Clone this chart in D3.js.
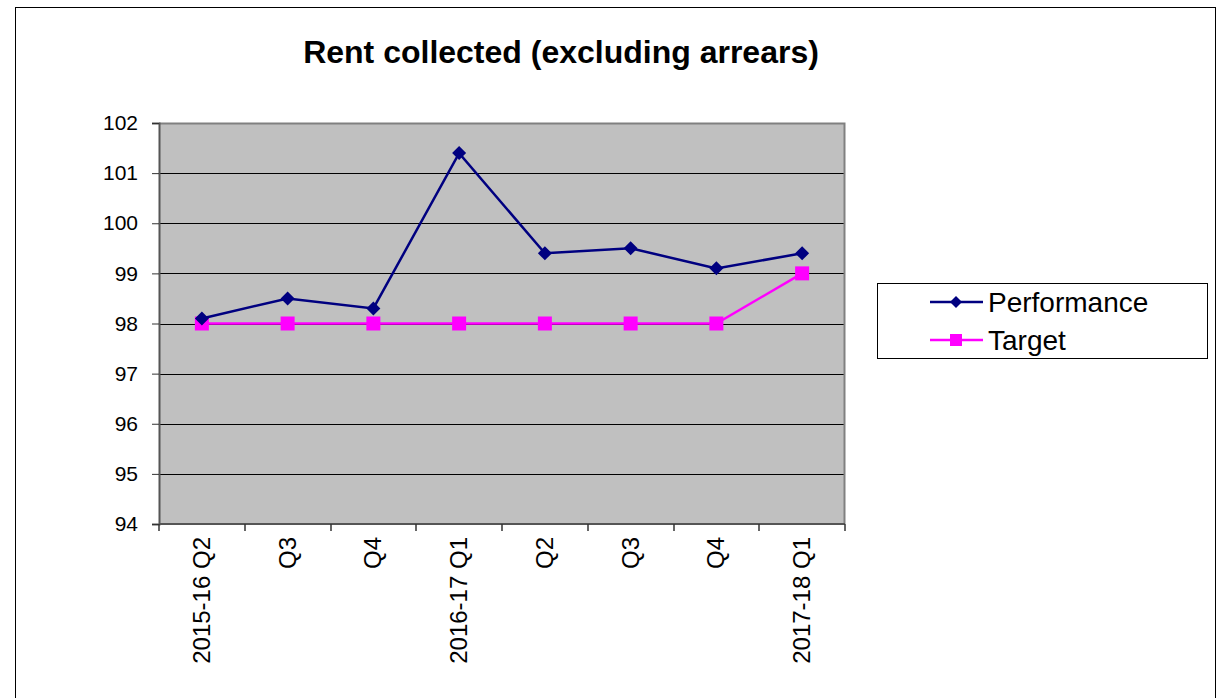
<!DOCTYPE html>
<html>
<head>
<meta charset="utf-8">
<script src="https://cdn.jsdelivr.net/npm/d3@7"></script>
<style>
  html, body { margin: 0; padding: 0; background: #fff; }
  svg { display: block; font-family: "Liberation Sans", Arial, sans-serif; }
</style>
</head>
<body>
<svg id="chart" width="1228" height="698"></svg>
<script>
// Quarterly rent collection (% excluding arrears) against target
const categories = ["2015-16 Q2", "Q3", "Q4", "2016-17 Q1", "Q2", "Q3", "Q4", "2017-18 Q1"];
const performance = [98.1, 98.5, 98.3, 101.4, 99.4, 99.5, 99.1, 99.4];
const target = [98, 98, 98, 98, 98, 98, 98, 99];
const yTicks = [94, 95, 96, 97, 98, 99, 100, 101, 102];
const seriesNames = ["Performance", "Target"];

const svg = d3.select("#chart");

// outer chart frame
svg.append("rect")
  .attr("x", 15.5).attr("y", 7.5)
  .attr("width", 1200).attr("height", 700)
  .attr("fill", "#fff").attr("stroke", "#000").attr("stroke-width", 1);

const plot = { left: 159, top: 123, right: 845, bottom: 524 };

// categories repeat ("Q3", "Q4"...), so the band scale runs over indices
const idx = categories.map((_, i) => i);
const x = d3.scaleBand().domain(idx).range([plot.left, plot.right]);
const y = d3.scaleLinear().domain([94, 102]).range([plot.bottom, plot.top]);
const cx = i => x(i) + x.bandwidth() / 2;

// title
svg.append("text")
  .attr("x", 561).attr("y", 63)
  .attr("text-anchor", "middle")
  .attr("font-size", 32).attr("font-weight", "bold")
  .text("Rent collected (excluding arrears)");

// plot background
svg.append("rect")
  .attr("x", plot.left).attr("y", plot.top)
  .attr("width", plot.right - plot.left).attr("height", plot.bottom - plot.top)
  .attr("fill", "#c0c0c0");

// gridlines
svg.append("g")
  .selectAll("line")
  .data(yTicks.slice(1, -1))
  .join("line")
  .attr("x1", plot.left).attr("x2", plot.right)
  .attr("y1", d => Math.round(y(d)) + 0.5).attr("y2", d => Math.round(y(d)) + 0.5)
  .attr("stroke", "#000").attr("stroke-width", 1);

// plot border (top and right)
svg.append("path")
  .attr("d", `M${plot.left},${plot.top + 0.5}H${plot.right - 0.5}V${plot.bottom}`)
  .attr("fill", "none").attr("stroke", "#808080").attr("stroke-width", 2);

// y axis
const yAxis = d3.axisLeft(y).tickValues(yTicks).tickSize(7).tickPadding(14).tickFormat(d3.format("d"));
const gy = svg.append("g").attr("transform", `translate(${plot.left},0)`).call(yAxis);
gy.select(".domain").attr("stroke", "#555").attr("stroke-width", 2);
gy.selectAll(".tick line").attr("stroke", "#333");
gy.selectAll(".tick text").attr("font-size", 21).attr("fill", "#000")
  .attr("font-family", "Liberation Sans, Arial, sans-serif");

// x axis: ticks at category boundaries, labels rotated
const gx = svg.append("g").attr("transform", `translate(0,${plot.bottom})`);
gx.append("line")
  .attr("x1", plot.left).attr("x2", plot.right)
  .attr("stroke", "#555").attr("stroke-width", 2);
const boundaries = idx.map(i => x(i)).concat([x(idx[idx.length - 1]) + x.bandwidth()]);
gx.selectAll("line.tk")
  .data(boundaries)
  .join("line").attr("class", "tk")
  .attr("x1", d => Math.round(d)).attr("x2", d => Math.round(d))
  .attr("y1", 0).attr("y2", 7)
  .attr("stroke", "#333").attr("stroke-width", 1.5);
gx.selectAll("text")
  .data(idx)
  .join("text")
  .attr("transform", i => `translate(${cx(i) + 8},13) rotate(-90)`)
  .attr("text-anchor", "end")
  .attr("font-size", 24)
  .text(i => categories[i]);

const line = d3.line().x(d => cx(d.i)).y(d => y(d.v));

const perfData = idx.map(i => ({ i, v: performance[i] }));
const targData = idx.map(i => ({ i, v: target[i] }));

// target series
svg.append("path").datum(targData)
  .attr("d", line).attr("fill", "none")
  .attr("stroke", "#ff00ff").attr("stroke-width", 2.5);
svg.append("g").selectAll("rect")
  .data(targData).join("rect")
  .attr("x", d => cx(d.i) - 7).attr("y", d => y(d.v) - 7)
  .attr("width", 14).attr("height", 14)
  .attr("fill", "#ff00ff");

// performance series
svg.append("path").datum(perfData)
  .attr("d", line).attr("fill", "none")
  .attr("stroke", "#000080").attr("stroke-width", 2.5);
const diamond = (px, py, r) => `M${px},${py - r}L${px + r},${py}L${px},${py + r}L${px - r},${py}Z`;
svg.append("g").selectAll("path")
  .data(perfData).join("path")
  .attr("d", d => diamond(cx(d.i), y(d.v), 7))
  .attr("fill", "#000080");

// legend
const lg = svg.append("g");
lg.append("rect")
  .attr("x", 877.5).attr("y", 283.5).attr("width", 330).attr("height", 75)
  .attr("fill", "#fff").attr("stroke", "#000").attr("stroke-width", 1);
const legendRows = [
  { name: seriesNames[0], color: "#000080", y: 302, marker: "diamond" },
  { name: seriesNames[1], color: "#ff00ff", y: 340, marker: "square" }
];
legendRows.forEach(r => {
  lg.append("line")
    .attr("x1", 930).attr("x2", 983).attr("y1", r.y).attr("y2", r.y)
    .attr("stroke", r.color).attr("stroke-width", 2.5);
  if (r.marker === "diamond") {
    lg.append("path").attr("d", diamond(956, r.y, 6)).attr("fill", r.color);
  } else {
    lg.append("rect").attr("x", 950).attr("y", r.y - 6).attr("width", 12).attr("height", 12).attr("fill", r.color);
  }
  lg.append("text")
    .attr("x", 988).attr("y", r.y + 10)
    .attr("font-size", 28)
    .text(r.name);
});
</script>
</body>
</html>
